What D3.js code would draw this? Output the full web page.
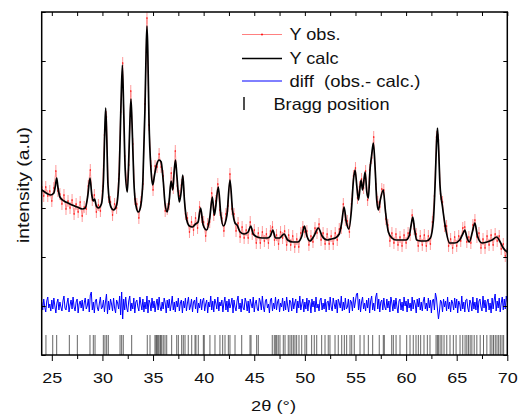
<!DOCTYPE html>
<meta charset="utf-8">
<style>
body { margin: 0; background: #fff; }
text { font-family: "Liberation Sans", Arial, sans-serif; fill: #111; }
.frame { fill: none; stroke: #000; stroke-width: 1.5px; }
.tick line { stroke: #000; stroke-width: 1px; }
</style>
<body>
<script src="https://cdn.jsdelivr.net/npm/d3@7"></script>
<script>

// calculated profile, [2theta, intensity a.u.]
var calcPoints = [
  [24.0,165],[24.3,163],[24.6,161],[24.9,160],[25.2,162],[25.35,169],[25.48,177],[25.6,168],[25.8,158],
  [26.2,154],[26.6,152],[27.0,150],[27.5,148],[28.0,146],[28.3,147],[28.55,159],[28.77,177],[28.95,160],
  [29.1,154],[29.22,156],[29.4,149],[29.6,147],[29.9,151],[30.1,175],[30.22,220],[30.32,247],[30.42,220],
  [30.55,170],[30.8,149],[31.1,145],[31.4,150],[31.65,180],[31.82,245],[31.97,290],[32.1,245],[32.25,185],
  [32.46,163],[32.6,195],[32.72,235],[32.82,256],[32.93,230],[33.1,175],[33.3,150],[33.55,143],[33.8,150],
  [34.0,175],[34.2,245],[34.32,305],[34.4,329],[34.48,305],[34.6,235],[34.8,185],[34.97,170],[35.15,180],
  [35.35,190],[35.6,195],[35.8,193],[36.0,175],[36.2,150],[36.4,143],[36.6,155],[36.78,174],[36.95,165],
  [37.1,185],[37.22,195],[37.35,180],[37.6,153],[37.8,165],[37.94,180],[38.1,155],[38.33,135],[38.6,129],
  [38.9,128],[39.2,131],[39.45,133],[39.7,147],[39.95,130],[40.3,125],[40.6,137],[40.86,158],[41.05,140],
  [41.15,145],[41.45,168],[41.7,140],[41.95,129],[42.3,140],[42.6,175],[42.85,145],[43.1,132],[43.3,130],
  [43.6,123],[44.0,121],[44.4,123],[44.65,129],[44.9,121],[45.3,118],[45.8,117],[46.3,117],[46.6,119],
  [46.83,125],[47.1,117],[47.5,117],[47.95,121],[48.3,115],[48.8,113],[49.3,113],[49.7,119],[49.95,129],
  [50.2,119],[50.5,114],[50.9,119],[51.33,127],[51.7,119],[52.2,115],[52.6,116],[53.0,117],[53.4,121],
  [53.65,133],[53.87,148],[54.1,133],[54.35,126],[54.6,145],[54.8,175],[54.96,185],[55.15,167],[55.3,155],
  [55.55,175],[55.7,165],[55.95,183],[56.12,163],[56.27,157],[56.45,187],[56.6,200],[56.77,212],[56.95,185],
  [57.1,155],[57.26,145],[57.45,155],[57.75,165],[57.95,145],[58.25,123],[58.6,117],[59.0,115],[59.5,115],
  [60.0,115],[60.3,119],[60.5,130],[60.66,138],[60.85,125],[61.05,115],[61.5,114],[62.0,114],[62.4,117],
  [62.7,135],[62.9,180],[63.0,210],[63.1,227],[63.2,210],[63.35,170],[63.6,148],[63.85,130],[64.3,112],
  [64.8,112],[65.3,115],[65.6,121],[65.8,125],[66.0,118],[66.25,113],[66.55,123],[66.8,132],[67.05,119],
  [67.5,112],[68.0,113],[68.5,115],[68.96,118],[69.3,113],[69.6,107],[70.0,103]
];

// observed intensities, scan from 24.0 to 70.0 in steps of 0.2
var obsStart = 24, obsStep = 0.2;
var obsI = [
  168,159,168,159,164,154,167,184,164,161,
  151,160,146,154,147,155,141,151,143,153,
  139,148,146,169,185,155,160,143,150,144,
  164,220,238,158,153,140,151,147,176,243,
  292,199,170,190,264,211,156,151,137,153,
  171,251,337,230,189,165,189,188,201,188,
  179,144,146,151,182,167,204,169,159,170,
  173,141,137,123,133,125,137,127,148,138,
  133,119,131,133,162,140,154,171,145,137,
  124,141,149,181,146,141,124,132,118,128,
  117,125,117,133,121,125,112,122,112,123,
  114,121,112,124,128,115,120,111,123,117,
  124,110,120,110,119,108,116,108,122,128,
  123,124,110,119,113,127,122,131,115,122,
  111,121,111,119,111,122,115,126,127,151,
  135,134,123,151,179,187,157,168,176,167,
  184,155,185,197,218,171,153,148,166,165,
  136,130,114,122,112,121,110,118,109,120,
  112,122,120,140,126,121,109,119,110,120,
  109,119,111,133,159,218,215,161,153,129,
  129,109,116,107,118,109,119,114,127,128,
  113,118,112,130,135,118,122,107,116,107,
  119,110,120,110,121,114,119,106,111,99,
  106
];

// difference obs - calc, scan from 24.0 to 70.0 in steps of 0.1
var diffStart = 24, diffStep = 0.1, diffOffset = 50;
var diffI = [
  3,-5,6,-2,-7,4,8,-3,1,-6,5,-4,7,-1,-8,2,6,-5,3,-2,
  -6,4,9,-3,-5,2,7,-7,0,5,-4,8,-2,-6,3,6,-8,1,4,-3,
  5,-6,2,7,-4,-1,6,-7,10,13,-5,3,-8,4,6,-3,-6,2,8,-4,
  -2,5,-7,3,11,-9,4,-5,6,1,-6,7,-3,-8,5,2,-4,9,-10,13,
  -14,6,-5,8,-3,-7,4,9,-6,2,-4,7,-8,3,5,-2,-6,8,1,-5,
  6,-7,3,-4,9,-8,5,2,-6,7,-3,4,-7,1,6,-5,8,-2,-6,3,
  -4,7,2,-8,5,-3,6,-6,1,9,-5,3,-7,4,-2,7,-6,2,5,-8,
  4,-3,7,-6,2,8,-5,-1,6,-7,3,5,-4,8,-8,2,-3,6,-5,4,
  7,-6,1,5,-8,3,-2,9,-5,4,-7,6,2,-4,8,-6,3,-1,5,-7,
  2,8,-5,4,-7,6,-3,1,7,-8,5,-2,-6,4,9,-4,2,-7,6,-3,
  -5,7,3,-6,4,-8,6,1,-3,8,-7,2,5,-4,-6,7,3,-5,9,-2,
  -7,4,6,-3,1,-8,5,7,-6,2,-4,8,-5,3,6,-7,2,-2,7,-6,
  4,-5,8,-1,-7,5,3,-6,7,-4,2,6,-8,4,-3,9,-5,1,6,-7,
  3,-4,7,-6,5,2,-8,6,-2,4,-7,8,-3,1,-6,5,7,-5,2,-4,
  6,-7,3,4,-5,8,-2,-6,7,1,-4,5,-8,6,2,-3,9,-6,3,-5,
  7,-4,-2,6,-8,5,3,-6,8,-3,4,11,12,-5,6,-7,3,8,-4,2,
  -6,5,-3,7,-8,4,9,-5,2,-6,8,12,-4,6,-7,3,5,-5,7,-2,
  -5,6,-3,4,-7,8,2,-6,5,-4,7,-2,-8,4,6,-5,3,-6,8,-1,
  4,-7,6,-3,2,-6,8,-4,5,1,-8,6,-2,7,-5,3,-6,4,8,-4,
  2,-6,7,-3,5,-8,4,6,-5,12,7,-4,-14,-6,5,3,-7,6,-2,4,
  -6,8,-4,3,-7,5,2,-5,7,-3,6,-8,4,1,-6,9,-4,3,-7,5,
  6,-3,-7,5,2,-6,8,-4,3,-5,7,-8,4,6,-2,-6,9,-3,5,-7,
  3,6,-5,2,-8,7,-4,5,11,-6,4,-3,7,-7,2,8,-5,6,-4,9,
  3
];

// Bragg reflection positions (2theta)
var braggPos = [
  24.42,25.09,25.48,26.73,27.52,28.77,29.10,29.27,30.09,30.25,30.42,30.58,31.74,31.90,32.06,32.89,
  34.43,34.70,35.19,35.29,35.36,35.46,35.56,35.69,35.76,35.86,36.01,36.18,36.35,36.84,37.34,37.50,
  37.83,37.99,38.16,38.48,38.82,39.15,39.24,39.47,39.97,40.06,40.62,41.12,41.61,41.88,42.11,42.44,
  42.60,43.10,43.76,44.58,44.68,45.24,45.40,46.78,46.98,47.12,47.22,47.37,47.54,47.87,48.04,48.36,
  48.53,48.70,48.86,49.02,49.19,49.42,49.69,50.01,50.18,50.67,50.93,51.17,51.66,51.99,52.31,52.48,
  52.98,53.30,53.64,53.90,54.13,54.46,54.63,54.88,55.45,55.85,56.27,56.70,57.35,57.75,57.85,58.58,
  58.74,59.01,59.40,60.06,60.39,60.71,60.98,61.21,61.44,61.77,62.10,62.36,62.96,63.09,63.19,63.36,
  63.53,63.75,64.02,64.34,64.67,64.94,65.33,65.60,65.83,66.00,66.16,66.33,66.50,66.73,66.99,67.32,
  67.65,67.98,68.31,68.48,68.64,68.81,68.98,69.15,69.31,69.48,69.64
];

var xMajor = [25, 30, 35, 40, 45, 50, 55, 60, 65, 70];
var xMinor = [27.5, 32.5, 37.5, 42.5, 47.5, 52.5, 57.5, 62.5, 67.5];
var yTicks = [0, 49, 98, 147, 196, 245, 294, 343];
var legendLabels = ["Y obs.", "Y calc", "diff  (obs.- calc.)", "Bragg position"];

var W = 519, H = 414;
var pL = 41.7, pR = 507.3, pT = 12, pB = 355;

var x = d3.scaleLinear().domain([24, 70]).range([pL, pR]);
var y = d3.scaleLinear().domain([0, 343]).range([pB, pT]);

var svg = d3.select("body").append("svg")
    .attr("width", W)
    .attr("height", H);

var obs = obsI.map(function(v, i) { return [obsStart + i * obsStep, v]; });
var diff = diffI.map(function(v, i) { return [diffStart + i * diffStep, v]; });
var errHalf = 6;

var plot = svg.append("g");

// bragg markers
plot.append("g").selectAll("line")
    .data(braggPos)
    .enter().append("line")
    .attr("x1", function(d) { return x(d); })
    .attr("x2", function(d) { return x(d); })
    .attr("y1", 335)
    .attr("y2", pB)
    .attr("stroke", "#333")
    .attr("stroke-opacity", 0.75)
    .attr("stroke-width", 1);

// diff
plot.append("path")
    .datum(diff)
    .attr("fill", "none")
    .attr("stroke", "#0000ff")
    .attr("stroke-width", 1)
    .attr("d", d3.line()
        .x(function(d) { return x(d[0]); })
        .y(function(d) { return y(diffOffset + d[1]); }));

// observed: error bars, line, points
plot.append("g").selectAll("line")
    .data(obs)
    .enter().append("line")
    .attr("x1", function(d) { return x(d[0]); })
    .attr("x2", function(d) { return x(d[0]); })
    .attr("y1", function(d) { return y(d[1] - errHalf); })
    .attr("y2", function(d) { return y(d[1] + errHalf); })
    .attr("stroke", "#ff7070")
    .attr("stroke-width", 0.7);

plot.append("path")
    .datum(obs)
    .attr("fill", "none")
    .attr("stroke", "#ff8080")
    .attr("stroke-width", 0.8)
    .attr("d", d3.line()
        .x(function(d) { return x(d[0]); })
        .y(function(d) { return y(d[1]); }));

plot.append("g").selectAll("circle")
    .data(obs)
    .enter().append("circle")
    .attr("cx", function(d) { return x(d[0]); })
    .attr("cy", function(d) { return y(d[1]); })
    .attr("r", 0.8)
    .attr("fill", "#ff0000");

// calculated
plot.append("path")
    .datum(calcPoints)
    .attr("fill", "none")
    .attr("stroke", "#000")
    .attr("stroke-width", 1.7)
    .attr("d", d3.line()
        .curve(d3.curveMonotoneX)
        .x(function(d) { return x(d[0]); })
        .y(function(d) { return y(d[1]); }));

// axes
function clean(g) { g.select(".domain").remove(); }

svg.append("g")
    .attr("transform", "translate(0," + pB + ")")
    .call(d3.axisBottom(x).tickValues(xMajor).tickSize(6).tickPadding(11))
    .call(clean)
    .selectAll("text")
    .attr("font-size", 15)
    .attr("font-family", "Liberation Sans, Arial, sans-serif")
    .attr("fill", "#111")
    .attr("textLength", 20)
    .attr("lengthAdjust", "spacingAndGlyphs");

svg.append("g")
    .attr("transform", "translate(0," + pB + ")")
    .call(d3.axisBottom(x).tickValues(xMinor).tickSize(4).tickFormat(""))
    .call(clean);

svg.append("g")
    .attr("transform", "translate(0," + pT + ")")
    .call(d3.axisBottom(x).tickValues(xMajor.concat(xMinor)).tickSize(4).tickFormat(""))
    .call(clean);

svg.append("g")
    .attr("transform", "translate(" + pL + ",0)")
    .call(d3.axisRight(y).tickValues(yTicks).tickSize(4).tickFormat(""))
    .call(clean);

svg.append("g")
    .attr("transform", "translate(" + pR + ",0)")
    .call(d3.axisLeft(y).tickValues(yTicks).tickSize(4).tickFormat(""))
    .call(clean);

svg.append("rect")
    .attr("class", "frame")
    .attr("x", pL)
    .attr("y", pT)
    .attr("width", pR - pL)
    .attr("height", pB - pT);

// axis titles
svg.append("text")
    .attr("transform", "translate(29,185) rotate(-90)")
    .attr("text-anchor", "middle")
    .attr("font-size", 16)
    .attr("textLength", 116)
    .attr("lengthAdjust", "spacingAndGlyphs")
    .text("intensity (a.u)");

svg.append("text")
    .attr("x", 273.5)
    .attr("y", 410.5)
    .attr("text-anchor", "middle")
    .attr("font-size", 15)
    .attr("textLength", 45)
    .attr("lengthAdjust", "spacingAndGlyphs")
    .text("2\u03b8 (\u00b0)");

// legend
var lg = svg.append("g");
var rowY = [34.5, 58.5, 81, 104];
var legendWidths = [51, 49, 131, 116];

lg.append("line")
    .attr("x1", 242).attr("x2", 282).attr("y1", rowY[0]).attr("y2", rowY[0])
    .attr("stroke", "#ff8080").attr("stroke-width", 1);
lg.append("circle")
    .attr("cx", 262).attr("cy", rowY[0]).attr("r", 0.9).attr("fill", "#ff0000");
lg.append("line")
    .attr("x1", 242).attr("x2", 282).attr("y1", rowY[1]).attr("y2", rowY[1])
    .attr("stroke", "#000").attr("stroke-width", 1.7);
lg.append("line")
    .attr("x1", 242).attr("x2", 282).attr("y1", rowY[2]).attr("y2", rowY[2])
    .attr("stroke", "#0000ff").attr("stroke-width", 1);
lg.append("line")
    .attr("x1", 244).attr("x2", 244).attr("y1", rowY[3] - 7).attr("y2", rowY[3] + 6)
    .attr("stroke", "#222").attr("stroke-width", 1.6);

lg.selectAll("text")
    .data(legendLabels)
    .enter().append("text")
    .attr("x", function(d, i) { return i == 3 ? 273.5 : 289.5; })
    .attr("y", function(d, i) { return rowY[i] + 5.5; })
    .attr("font-size", 16.5)
    .attr("textLength", function(d, i) { return legendWidths[i]; })
    .attr("lengthAdjust", "spacingAndGlyphs")
    .style("white-space", "pre")
    .text(function(d) { return d; });

</script>
</body>
